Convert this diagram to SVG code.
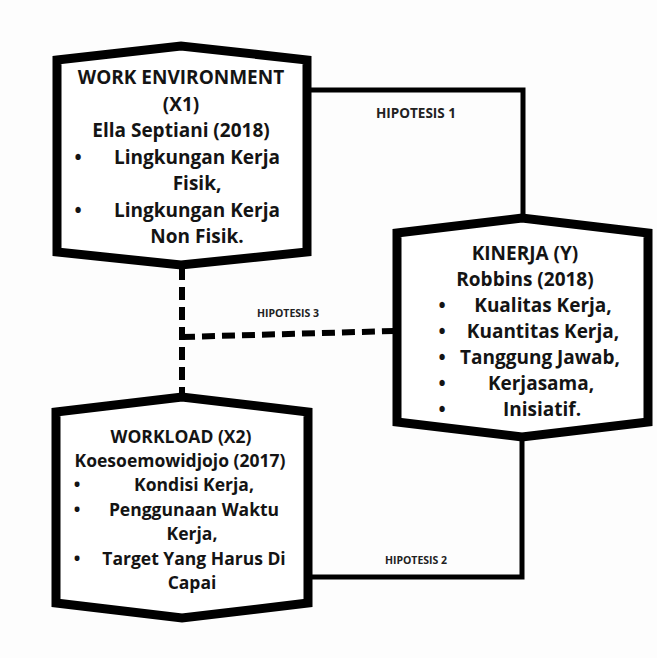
<svg xmlns="http://www.w3.org/2000/svg" width="657" height="658" viewBox="0 0 657 658">
<style>
.node{fill:#fff;stroke:#000;stroke-width:9;stroke-linejoin:miter}
.t{font-family:"Open Sans","Noto Sans","DejaVu Sans",sans-serif;font-weight:700;fill:#141414;text-anchor:middle}
.f19{font-size:19px}
.f17{font-size:17.5px}
.lbl{font-family:"Open Sans","Noto Sans","DejaVu Sans",sans-serif;font-weight:700;fill:#222;text-anchor:middle}
.solid{fill:none;stroke:#000;stroke-width:5}
.dash{fill:none;stroke:#000;stroke-width:6;stroke-dasharray:13 7}
</style>
<rect width="657" height="658" fill="#fdfdfd"/>
<g id="connectors">
<polyline class="solid" points="307,90 523,90 523,218"/>
<polyline class="solid" points="522,437 522,577 307,577"/>
<line class="dash" x1="182" y1="267" x2="182" y2="397"/>
<line class="dash" x1="182" y1="337" x2="394" y2="331"/>
<text class="lbl" x="416" y="118" font-size="13.5">HIPOTESIS 1</text>
<text class="lbl" x="416" y="564" font-size="10.5">HIPOTESIS 2</text>
<text class="lbl" x="288" y="317" font-size="10.5">HIPOTESIS 3</text>
</g>
<g id="node-x1">
<polygon class="node" points="57,60 181,46 307,60 307,252 181,265 57,252"/>
<text class="t f19" x="181" y="84">WORK ENVIRONMENT</text>
<text class="t f19" x="181" y="110.5">(X1)</text>
<text class="t f19" x="181" y="137">Ella Septiani (2018)</text>
<text class="t f19" x="78" y="163.5">•</text>
<text class="t f19" x="197" y="163.5">Lingkungan Kerja</text>
<text class="t f19" x="197" y="190">Fisik,</text>
<text class="t f19" x="78" y="216.5">•</text>
<text class="t f19" x="197" y="216.5">Lingkungan Kerja</text>
<text class="t f19" x="197" y="243">Non Fisik.</text>
</g>
<g id="node-y">
<polygon class="node" points="397,233 522,218 648,233 648,422 522,437 397,422"/>
<text class="t f19" x="525" y="259.5">KINERJA (Y)</text>
<text class="t f19" x="525" y="285.5">Robbins (2018)</text>
<text class="t f19" x="442" y="311.5">•</text>
<text class="t f19" x="543" y="311.5">Kualitas Kerja,</text>
<text class="t f19" x="442" y="337.5">•</text>
<text class="t f19" x="543" y="337.5">Kuantitas Kerja,</text>
<text class="t f19" x="442" y="363.5">•</text>
<text class="t f19" x="540" y="363.5">Tanggung Jawab,</text>
<text class="t f19" x="442" y="389.5">•</text>
<text class="t f19" x="541" y="389.5">Kerjasama,</text>
<text class="t f19" x="442" y="415.5">•</text>
<text class="t f19" x="542" y="415.5">Inisiatif.</text>
</g>
<g id="node-x2">
<polygon class="node" points="56,412 182,397 308,412 308,603 182,618 56,603"/>
<text class="t f17" x="181" y="443">WORKLOAD (X2)</text>
<text class="t f17" x="180" y="466.5">Koesoemowidjojo (2017)</text>
<text class="t f17" x="77" y="491">•</text>
<text class="t f17" x="194" y="491">Kondisi Kerja,</text>
<text class="t f17" x="77" y="515.5">•</text>
<text class="t f17" x="194" y="515.5">Penggunaan Waktu</text>
<text class="t f17" x="192" y="540">Kerja,</text>
<text class="t f17" x="77" y="564.5">•</text>
<text class="t f17" x="194" y="564.5">Target Yang Harus Di</text>
<text class="t f17" x="192" y="589">Capai</text>
</g>
</svg>
